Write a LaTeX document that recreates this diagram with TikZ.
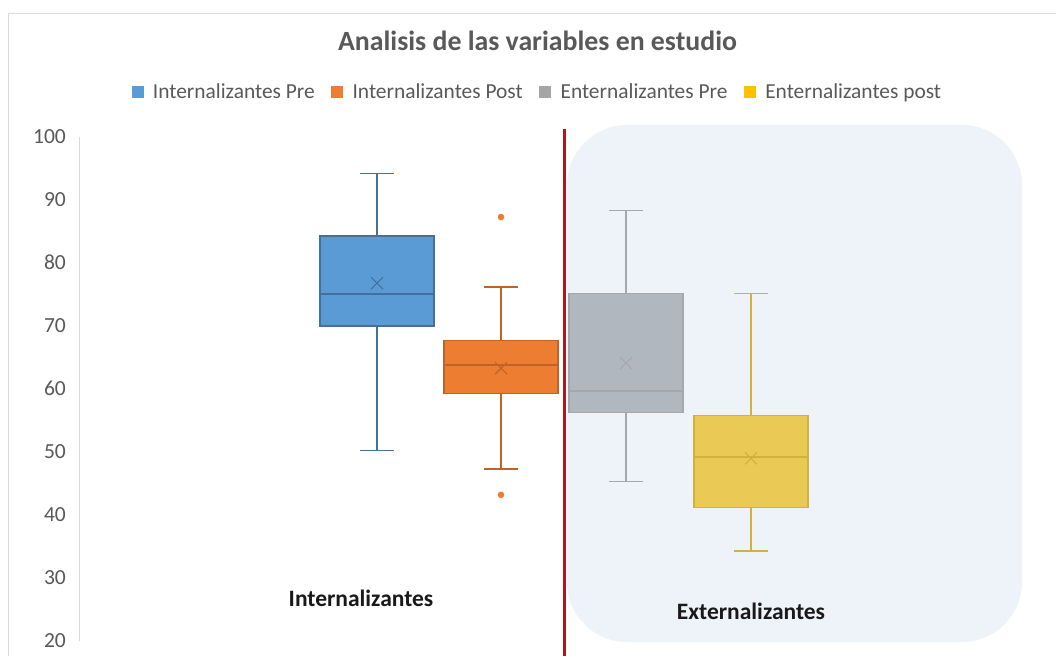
\documentclass[tikz,border=0pt]{standalone}
\usepackage{fontspec}
\setmainfont{Carlito}
\usetikzlibrary{positioning}

\definecolor{bluefill}{HTML}{5B9BD5}
\definecolor{blueline}{HTML}{41719C}
\definecolor{orangefill}{HTML}{ED7D31}
\definecolor{orangeline}{HTML}{BF6428}
\definecolor{grayfill}{HTML}{B1B7BE}
\definecolor{grayline}{HTML}{A2A8AE}
\definecolor{yellowfill}{HTML}{EBC955}
\definecolor{yellowline}{HTML}{D2B13F}
\definecolor{legendgray}{HTML}{A5A5A5}
\definecolor{legendgold}{HTML}{FFC000}
\definecolor{textgray}{HTML}{595959}
\definecolor{axisgray}{HTML}{D9D9D9}
\definecolor{regionblue}{HTML}{EEF3FA}
\definecolor{splitred}{HTML}{B5121B}

\tikzset{
	ticklabel/.style={anchor=east, inner sep=0pt, text=textgray, text height=13.6pt, text depth=0pt, font=\fontsize{21.5}{22}\selectfont},
	legsq/.style={minimum size=12pt, inner sep=0pt, draw=none},
	legtext/.style={inner sep=0pt, text=textgray, text height=13.8pt, text depth=0pt, font=\fontsize{21.4}{22}\selectfont},
	grouplabel/.style={inner sep=0pt, text=black!90, font=\bfseries\fontsize{23.5}{24}\selectfont},
}

% #1 colour, #2 x, #3 min, #4 q1, #5 median, #6 q3, #7 max, #8 mean
\newcommand{\boxchart}[8]{%
	\draw[line width=1.3pt, color=#1line] (#2, #3) -- (#2, #4) (#2, #6) -- (#2, #7);
	\draw[line width=1.3pt, color=#1line] (#2-17, #3) -- (#2+17, #3) (#2-17, #7) -- (#2+17, #7);
	\draw[line width=1.3pt, color=#1line, fill=#1fill] (#2-57, #4) rectangle (#2+57, #6);
	\draw[line width=1.3pt, color=#1line] (#2-57, #5) -- (#2+57, #5);
	\draw[line width=1.1pt, color=#1line] (#2, #8) ++(-6pt,-6pt) -- ++(12pt,12pt) ++(-12pt,0pt) -- ++(12pt,-12pt);
}

\begin{document}
\begin{tikzpicture}[x=1pt, y=-1pt]
		%%%%% START %%%%%
		\useasboundingbox[fill=white] (0, 0) rectangle (1056, 656);
		
		% chart frame
		\draw[line width=1pt, color=axisgray] (8, 656) -- (8, 13) -- (1056, 13);
		
		% shaded area
		\fill[regionblue, rounded corners=60pt] (567, 125) rectangle (1022, 642);
		
		% title and legend
		\node[inner sep=0pt, text=textgray, text height=17.9pt, text depth=0pt, font=\bfseries\fontsize{27.8}{29}\selectfont] (title) at (537.5, 42) {Analisis de las variables en estudio};
		
		\node[legsq, fill=bluefill] (sq1) at (137.5, 91.5) {};
		\node[legtext, right=9pt of sq1] (lg1) {Internalizantes Pre};
		\node[legsq, fill=orangefill, right=16pt of lg1] (sq2) {};
		\node[legtext, right=9pt of sq2] (lg2) {Internalizantes Post};
		\node[legsq, fill=legendgray, right=16pt of lg2] (sq3) {};
		\node[legtext, right=9pt of sq3] (lg3) {Enternalizantes Pre};
		\node[legsq, fill=legendgold, right=16pt of lg3] (sq4) {};
		\node[legtext, right=9pt of sq4] (lg4) {Enternalizantes post};
		
		\begin{scope}[yshift=-767pt, y=6.3pt]
			% value axis
			\draw[line width=1pt, color=axisgray] (79, 20) -- (79, 100);
			\foreach \v in {20,30,...,100}
				\node[ticklabel] (t\v) at (66, \v) {\v};
			
			% boxes
			\boxchart{blue}{377}{50.2}{70.0}{75.1}{84.3}{94.2}{76.8}
			\boxchart{orange}{501}{47.3}{59.3}{63.8}{67.7}{76.2}{63.3}
			\fill[orangefill] (501, 87.3) circle (3.3pt) (501, 43.2) circle (3.3pt);
			\boxchart{gray}{626}{45.3}{56.3}{59.7}{75.2}{88.3}{64.1}
			\boxchart{yellow}{751}{34.3}{41.2}{49.2}{55.8}{75.2}{49.0}
		\end{scope}
		
		% split line
		\draw[line width=3pt, color=splitred] (564, 129) -- (564, 656);
		
		\node[grouplabel] (intern) at (361, 598) {Internalizantes};
		\node[grouplabel] (extern) at (751, 611) {Externalizantes};
		
		%%%%% END %%%%%
\end{tikzpicture}
\end{document}
